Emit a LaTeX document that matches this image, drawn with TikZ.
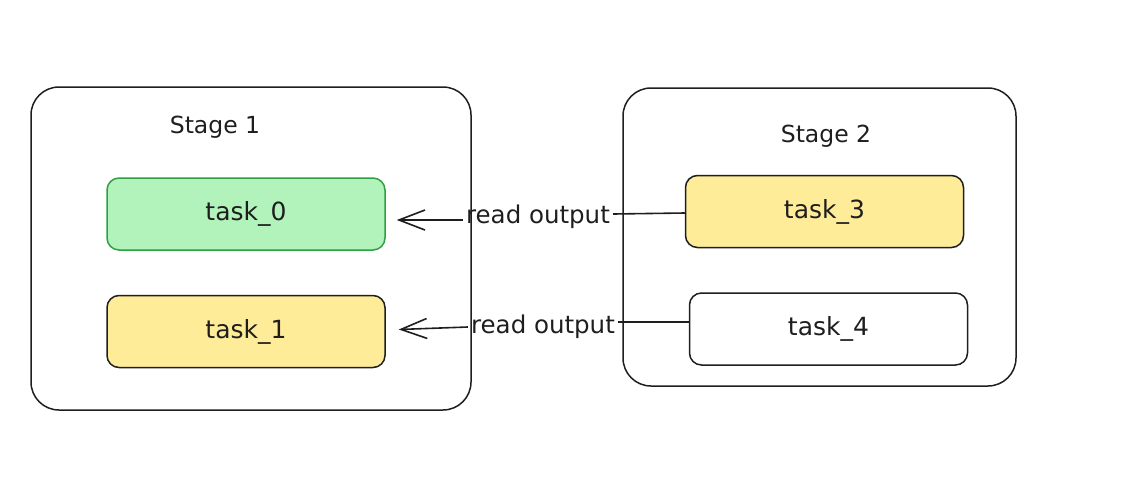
\documentclass[tikz,border=0pt]{standalone}
\usepackage{fontspec}
\setmainfont{DejaVu Sans}
\usetikzlibrary{positioning,arrows.meta}

\definecolor{inkblack}{HTML}{1E1E1E}
\definecolor{taskgreen}{HTML}{B2F2BB}
\definecolor{taskgreenline}{HTML}{2F9E44}
\definecolor{taskyellow}{HTML}{FFEC99}

\tikzset{
  stagebox/.style={draw=inkblack, line width=1.5pt, rounded corners=28pt, inner sep=0pt},
  taskbox/.style={draw=inkblack, line width=1.5pt, rounded corners=12pt, text=inkblack,
    minimum width=278pt, minimum height=72pt, font=\fontsize{25}{30}\selectfont},
  done/.style={fill=taskgreen, draw=taskgreenline},
  waiting/.style={fill=taskyellow},
  stagetitle/.style={font=\fontsize{23.5}{28}\selectfont, text=inkblack},
  readlabel/.style={font=\fontsize{24.5}{29}\selectfont, text=inkblack, inner sep=3pt},
  readline/.style={draw=inkblack, line width=1.6pt},
  readarrow/.style={readline, -{Straight Barb[length=26pt, width=20pt, line width=1.6pt]}},
}

\begin{document}
\begin{tikzpicture}[x=1pt, y=-1pt]
  \useasboundingbox (0,0) rectangle (1136,480);

  % stages
  \node[stagebox, minimum width=440pt, minimum height=323pt] (stage1) at (251,248.5) {};
  \node[stagebox, minimum width=393pt, minimum height=298pt] (stage2) at (819.5,237) {};
  \node[stagetitle] (title1) at (215,127) {Stage 1};
  \node[stagetitle] (title2) at (826,136) {Stage 2};

  % tasks
  \node[taskbox, done] (task0) at (246,214) {task\_0};
  \node[taskbox, waiting, below=44pt of task0] (task1) {task\_1};
  \node[taskbox, waiting] (task3) at (824.5,211.5) {task\_3};
  \node[taskbox, below=44pt of task3, xshift=4pt] (task4) {task\_4};

  % read output links
  \node[readlabel] (read0) at (538,217) {read output};
  \node[readlabel] (read1) at (543,327) {read output};
  \draw[readline] ([yshift=-1.5pt]task3.west) -- ([yshift=3pt]read0.east);
  \draw[readarrow] ([yshift=-3pt]read0.west) -- ([xshift=11pt, yshift=-6pt]task0.east);
  \draw[readline] ([yshift=7pt]task4.west) -- ([yshift=5pt]read1.east);
  \draw[readarrow] (read1.west) -- ([xshift=13pt, yshift=2pt]task1.east);
\end{tikzpicture}
\end{document}
